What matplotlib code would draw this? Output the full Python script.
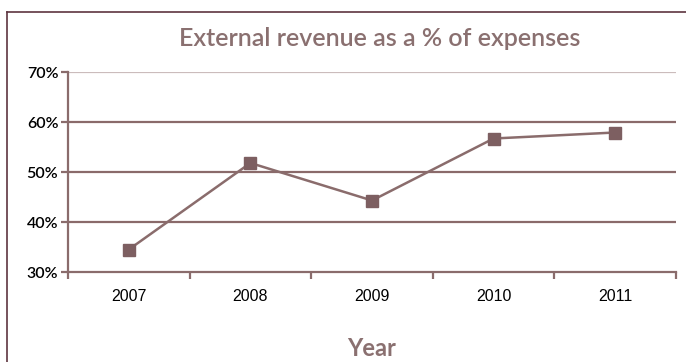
import matplotlib.pyplot as plt
from matplotlib.ticker import FixedLocator
from matplotlib.lines import Line2D

years = ["2007", "2008", "2009", "2010", "2011"]
share = [34.5, 51.8, 44.3, 56.7, 57.9]
yticks = [30, 40, 50, 60, 70]

line_col = "#8a6c6c"
mark_col = "#7d5f61"
grid_col = "#8a6a6a"
text_col = "#8a7070"

plt.rcParams['font.family'] = ['Lato', 'DejaVu Sans']

fig = plt.figure(figsize=(6.86, 3.62), dpi=100)
ax = fig.add_axes([68/686, 90/362, 608/686, 200/362])

x = list(range(len(years)))
ax.plot(x, share, color=line_col, lw=1.8, marker="s", ms=9,
        mfc=mark_col, mec=mark_col, zorder=3)

ax.set_xlim(-0.5, len(years) - 0.5)
ax.set_ylim(30, 70)
ax.set_yticks(yticks)
ax.set_yticklabels([f"{v}%" for v in yticks], fontweight="semibold")
ax.set_xticks(x)
ax.set_xticklabels(years, family=["Liberation Sans", "DejaVu Sans"])
ax.xaxis.set_minor_locator(FixedLocator([i + 0.5 for i in range(-1, len(years))]))

for v in yticks[1:-1]:
    ax.axhline(v, color=grid_col, lw=1.6, zorder=1)
ax.axhline(70, color="#cbbcbc", lw=1.6, zorder=1)

for s in ["top", "right"]:
    ax.spines[s].set_visible(False)
for s in ["left", "bottom"]:
    ax.spines[s].set_color(line_col)
    ax.spines[s].set_linewidth(1.6)

ax.tick_params(axis="x", which="major", length=0, pad=12, labelsize=11.5, colors="black")
ax.tick_params(axis="x", which="minor", length=5, width=1.6, color=line_col, direction="out")
ax.tick_params(axis="y", length=5, width=1.6, color=line_col, labelsize=11.5, labelcolor="black", pad=2)

fig.text(0.554, 0.895, "External revenue as a % of expenses", ha="center", va="center",
         fontsize=18, color=text_col, fontweight="semibold")
fig.text(372/686, 1 - 348/362, "Year", ha="center", va="center",
         fontsize=17, color=text_col, fontweight="bold")

# outer frame: top and left edges
fig.add_artist(Line2D([7/686, 1], [1 - 12/362, 1 - 12/362], color="#5e3540", lw=1.2))
fig.add_artist(Line2D([7/686, 7/686], [0, 1 - 12/362], color="#5e3540", lw=1.2))

fig.savefig("out.png", dpi=100)
